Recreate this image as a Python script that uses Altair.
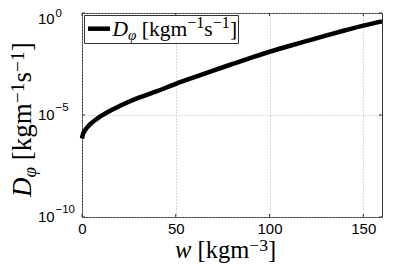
import altair as alt
import pandas as pd

# ---- data ----
w_values = [0, 0.5, 1, 2, 3, 5, 7.5, 10, 15, 20, 25, 30, 40, 50, 60, 70, 80, 90,
            100, 110, 120, 130, 140, 150, 160]
d_phi_values = [7.08e-7, 1.15e-6, 1.45e-6, 2.00e-6, 2.63e-6, 3.98e-6, 6.03e-6,
                8.71e-6, 1.62e-5, 2.75e-5, 4.47e-5, 6.92e-5, 1.48e-4, 3.39e-4,
                7.24e-4, 1.51e-3, 3.09e-3, 6.31e-3, 1.26e-2, 2.34e-2, 4.27e-2,
                7.76e-2, 0.138, 0.240, 0.389]
x_ticks = [0, 50, 100, 150]
y_ticks = [1e-10, 1e-5, 1e0]
y_tick_exponents = ["\u221210", "\u22125", "0"]

W, H = 300, 204
FRAME = "#333333"
GRID = "#b4b4b4"

curve = pd.DataFrame({"w": w_values, "D": d_phi_values})
ytick_df = pd.DataFrame({"D": y_ticks, "exp": y_tick_exponents})
xtick_df = pd.DataFrame({"w": x_ticks})
one = pd.DataFrame({"k": [0]})

xscale = alt.Scale(domain=[0, 160], nice=False, zero=False)
yscale = alt.Scale(type="log", domain=[1e-10, 1], nice=False)
xaxis = alt.Axis(values=x_ticks, title=None, format="d", labelFont="Liberation Sans",
                 labelFontSize=15, labelColor="black", labelPadding=4, labelFlush=False,
                 ticks=False, tickSize=0, domain=False, grid=True, gridColor=GRID,
                 gridDash=[1, 2], gridWidth=1)
yaxis = alt.Axis(values=y_ticks, title=None, labels=False, ticks=False, tickSize=0,
                 domain=False, grid=True, gridColor=GRID, gridDash=[1, 2], gridWidth=1)
X = lambda: alt.X("w:Q", scale=xscale, axis=xaxis)
Y = lambda: alt.Y("D:Q", scale=yscale, axis=yaxis)

line = alt.Chart(curve).mark_line(color="black", strokeWidth=4.5, strokeCap="butt",
                                  interpolate="monotone").encode(x=X(), y=Y())

# inward ticks
tick_layers = [
    alt.Chart(xtick_df).mark_rule(color=FRAME, strokeWidth=1).encode(
        x=X(), y=alt.value(H), y2=alt.value(H - 3)),
    alt.Chart(xtick_df).mark_rule(color=FRAME, strokeWidth=1).encode(
        x=X(), y=alt.value(0), y2=alt.value(3)),
    alt.Chart(ytick_df).mark_rule(color=FRAME, strokeWidth=1).encode(
        y=Y(), x=alt.value(0), x2=alt.value(3)),
    alt.Chart(ytick_df).mark_rule(color=FRAME, strokeWidth=1).encode(
        y=Y(), x=alt.value(W - 3), x2=alt.value(W)),
]


# y tick labels "10" + exponent
def ylabels(filt, base_dy, exp_dy):
    base = alt.Chart(ytick_df).transform_filter(filt).mark_text(
        text="10", font="Liberation Sans", fontSize=15, align="left", baseline="middle",
        color="black", dy=base_dy).encode(y=Y(), x=alt.value(-44))
    exp = alt.Chart(ytick_df).transform_filter(filt).mark_text(
        font="Liberation Sans", fontSize=11.5, align="left", baseline="middle",
        color="black", dy=exp_dy).encode(y=Y(), x=alt.value(-26.5), text="exp:N")
    return [base, exp]


ylab_layers = ylabels("datum.D < 0.5", 0, -7) + ylabels("datum.D >= 0.5", 6, 1)


def run(pieces, x0, y0, F, vertical=False):
    layers = []
    pos = 0.0
    for txt, em, style, scale, shift in pieces:
        size = F * scale
        if txt:
            if vertical:
                x, y, ang = x0 + shift * F, y0 - pos, 270
            else:
                x, y, ang = x0 + pos, y0 + shift * F, 0
            layers.append(alt.Chart(one).mark_text(
                text=txt, font="Liberation Serif", fontStyle=style, fontSize=size,
                align="left", baseline="alphabetic", angle=ang, color="black").encode(
                x=alt.value(x), y=alt.value(y)))
        pos += em * size
    return layers


def dphi_pieces(sup, sc):
    return [
        ("D", 0.722, "italic", 1, 0),
        ("\u03c6", 0.56, "italic", 0.7, 0.2),
        ("", 0.25, "normal", 1, 0),
        ("[kgm", 2.111, "normal", 1, 0),
        ("\u22121", 1.064, "normal", sc, -sup),
        ("s", 0.389, "normal", 1, 0),
        ("\u22121", 1.064, "normal", sc, -sup),
        ("]", 0.333, "normal", 1, 0),
    ]


xtitle_pieces = [
    ("w", 0.667, "italic", 1, 0),
    ("", 0.25, "normal", 1, 0),
    ("[kgm", 2.111, "normal", 1, 0),
    ("\u22123", 1.064, "normal", 0.72, -0.3),
    ("]", 0.333, "normal", 1, 0),
]

title_layers = (run(xtitle_pieces, 93, 245, 24.5)
                + run(dphi_pieces(0.27, 0.72), -51, 184, 27, vertical=True))

legend_layers = [
    alt.Chart(one).mark_rect(fill="white", stroke=FRAME, strokeWidth=1).encode(
        x=alt.value(2.5), x2=alt.value(156.5), y=alt.value(2.5), y2=alt.value(30.5)),
    alt.Chart(one).mark_rule(color="black", strokeWidth=4.5, strokeCap="butt").encode(
        x=alt.value(6), x2=alt.value(28), y=alt.value(15.7)),
] + run(dphi_pieces(0.36, 0.75), 30.5, 22.5, 21.5)

chart = alt.layer(line, *tick_layers, *ylab_layers, *legend_layers, *title_layers).properties(
    width=W, height=H,
    padding={"left": 74, "top": 5, "right": 19, "bottom": 47},
    autosize=alt.AutoSizeParams(type="none"),
).configure_view(stroke=FRAME, strokeWidth=1)

chart.save("out.html", embed_options={"renderer": "svg", "actions": False})
